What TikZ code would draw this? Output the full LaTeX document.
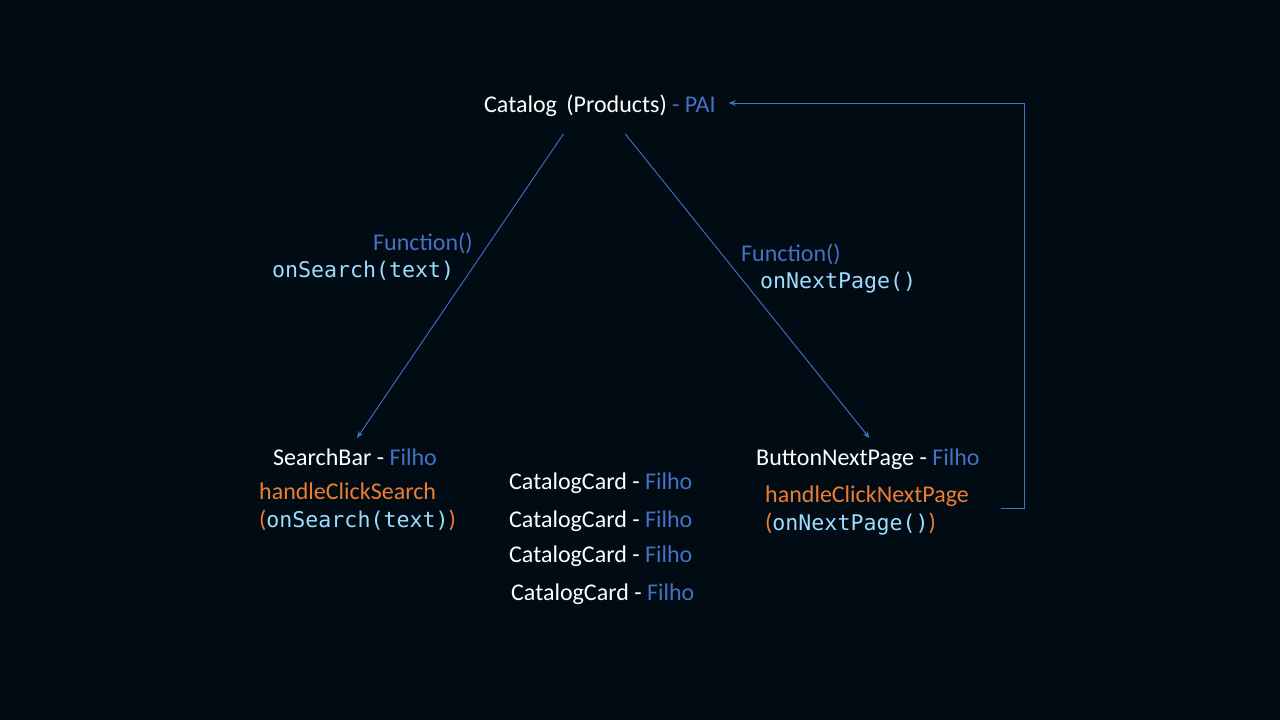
\documentclass[tikz,border=0pt]{standalone}
\usepackage{fontspec}
\setmainfont{Carlito}
\newfontfamily\codefont{DejaVu Sans Mono}
\usetikzlibrary{arrows.meta, positioning}

\definecolor{bgdark}{HTML}{010B13}
\definecolor{pai}{HTML}{4472C4}
\definecolor{handler}{HTML}{ED7D31}
\definecolor{codeblue}{HTML}{9CDCFE}
\newcommand{\codetext}[1]{{\codefont\fontsize{21.6}{28}\selectfont\textcolor{codeblue}{#1}}}

\begin{document}
\begin{tikzpicture}[x=1pt, y=-1pt, >=Stealth, every node/.style={inner sep=0pt, anchor=base west, text=white, font=\fontsize{24}{28.8}\selectfont}]
            \tikzset{
                link/.style={
                        ->, draw=pai, line width=0.9pt, >={Stealth[length=7pt, width=5.5pt]}
                    },
                func/.style={text=pai},
                handle/.style={text=handler}
            }

            % Background
            \fill[bgdark] (0,0) rectangle (1280,720);
            \useasboundingbox (0,0) rectangle (1280,720);

            % Parent
            \node (catalog) at (484,112) {Catalog\hspace{4pt} (Products) \textcolor{pai}{- PAI}};

            % Children
            \node (searchbar) at (273,465) {SearchBar - \textcolor{pai}{Filho}};
            \node[handle] (handleSearch) at (259,499) {handleClickSearch};
            \node[handle] (callSearch) at (259,527) {(\codetext{onSearch(text)})};

            \foreach \i/\x/\y in {1/509/489, 2/509/527, 3/509/562, 4/511/600}
                \node (card\i) at (\x,\y) {CatalogCard - \textcolor{pai}{Filho}};

            \node (btnNext) at (756,465) {ButtonNextPage - \textcolor{pai}{Filho}};
            \node[handle] (handleNext) at (765,502) {handleClickNextPage};
            \node[handle] (callNext) at (765,530) {(\codetext{onNextPage()})};

            % Props passed down
            \node[func] (funcSearch) at (373,250) {Function()};
            \node (propSearch) at (272,277) {\codetext{onSearch(text)}};
            \node[func] (funcNext) at (741,261) {Function()};
            \node (propNext) at (760,288) {\codetext{onNextPage()}};

            % Arrows
            \draw[link] ([xshift=-36.5pt, yshift=-22pt]catalog.base) -- ([xshift=2pt, yshift=27pt]searchbar.base);
            \draw[link] ([xshift=25.5pt, yshift=-22pt]catalog.base) -- ([xshift=1.5pt, yshift=27pt]btnNext.base);
            \draw[link] ([xshift=32pt, yshift=-6pt]handleNext.base east) -- ++(23,0) |- ([xshift=13pt, yshift=9pt]catalog.base east);
        \end{tikzpicture}
\end{document}
